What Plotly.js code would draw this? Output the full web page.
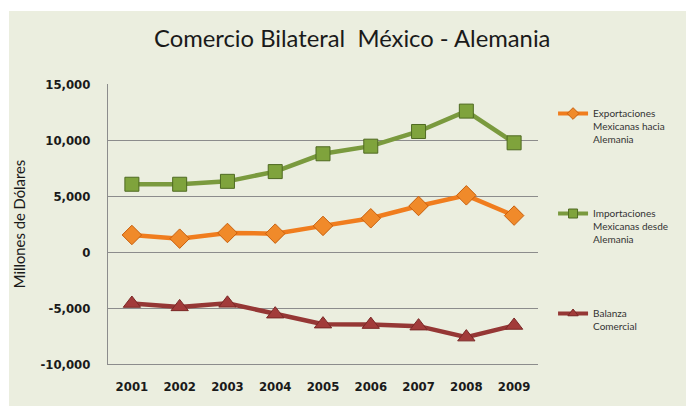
<!DOCTYPE html>
<html>
<head>
<meta charset="utf-8">
<script src="https://cdn.plot.ly/plotly-3.0.1.min.js"></script>
<style>
html,body{margin:0;padding:0;background:#ffffff;}
#chart{position:absolute;left:9px;top:11px;width:677px;height:395px;}
</style>
</head>
<body>
<div id="chart"></div>
<script>
var years = ['2001','2002','2003','2004','2005','2006','2007','2008','2009'];
var exportaciones = [1520, 1190, 1700, 1640, 2330, 3010, 4110, 5060, 3250];
var importaciones = [6050, 6050, 6310, 7180, 8770, 9450, 10760, 12580, 9750];
var balanza = [-4600, -4900, -4580, -5550, -6440, -6480, -6620, -7600, -6560];
var seriesNames = ['Exportaciones<br>Mexicanas hacia<br>Alemania', 'Importaciones<br>Mexicanas desde<br>Alemania', 'Balanza<br>Comercial'];
var yTickVals = [-10000, -5000, 0, 5000, 10000, 15000];
var yTickText = ['-10,000', '-5,000', '0', '5,000', '10,000', '15,000'];

var colors = {
  exp: {line: '#F07D1E', fill: '#F08A2A', edge: '#C85F0C'},
  imp: {line: '#7A9A3E', fill: '#7FA33C', edge: '#4F6A22'},
  bal: {line: '#953735', fill: '#A23B3A', edge: '#7A2726'}
};

function mainTrace(y, c, sym, size) {
  return {x: years, y: y, type: 'scatter', mode: 'lines+markers', showlegend: false,
    line: {color: c.line, width: 4.5},
    marker: {symbol: sym, size: size, color: c.fill, line: {color: c.edge, width: 1}}};
}
function legendTrace(name, grp, c, sym) {
  return {x: [null], y: [null], name: name, legendgroup: grp, type: 'scatter', mode: 'lines+markers',
    line: {color: c.line, width: 4},
    marker: {symbol: sym, size: 9, color: c.fill, line: {color: c.edge, width: 1}}};
}

var traces = [
  mainTrace(exportaciones, colors.exp, 'diamond', 15),
  mainTrace(importaciones, colors.imp, 'square', 14),
  mainTrace(balanza, colors.bal, 'triangle-up', 15),
  legendTrace(seriesNames[0], 'a', colors.exp, 'diamond'),
  legendTrace(seriesNames[1], 'b', colors.imp, 'square'),
  legendTrace(seriesNames[2], 'c', colors.bal, 'triangle-up')
];

var tickFont = {family: '"DejaVu Sans Condensed", "DejaVu Sans", sans-serif', size: 13, color: '#1a1a1a', weight: 'bold'};

var layout = {
  width: 677, height: 395,
  paper_bgcolor: '#EBEEDF', plot_bgcolor: '#EBEEDF',
  margin: {l: 99, r: 146, t: 73, b: 42},
  title: {text: 'Comercio Bilateral  México - Alemania', x: 0.507, xanchor: 'center', y: 0.93, yanchor: 'middle',
          font: {family: 'Lato, sans-serif', size: 23.8, color: '#1a1a1a'}},
  xaxis: {type: 'category', range: [-0.5, 8.5], showgrid: false, showline: true, linecolor: '#8C8C8C', linewidth: 1,
          ticks: '', ticklabelstandoff: 10, tickfont: tickFont, fixedrange: true},
  yaxis: {range: [-10000, 15000], tickvals: yTickVals, ticktext: yTickText, showgrid: true, gridcolor: '#8C8C8C', gridwidth: 1,
          zeroline: true, zerolinecolor: '#8C8C8C', zerolinewidth: 1, showline: true, linecolor: '#8C8C8C', linewidth: 1,
          ticks: '', ticklabelstandoff: 14, tickfont: tickFont,
          title: {text: 'Millones de Dólares', standoff: 11, font: {family: 'Lato, sans-serif', size: 14.8, color: '#1a1a1a'}}},
  showlegend: true,
  legend: {x: 1.035, xanchor: 'left', y: 0.941, yanchor: 'top', bgcolor: 'rgba(0,0,0,0)', valign: 'top',
           tracegroupgap: 58, itemwidth: 30,
           font: {family: 'Lato, sans-serif', size: 10, color: '#333333'}}
};

Plotly.newPlot('chart', traces, layout, {displayModeBar: false, staticPlot: true});
</script>
</body>
</html>
